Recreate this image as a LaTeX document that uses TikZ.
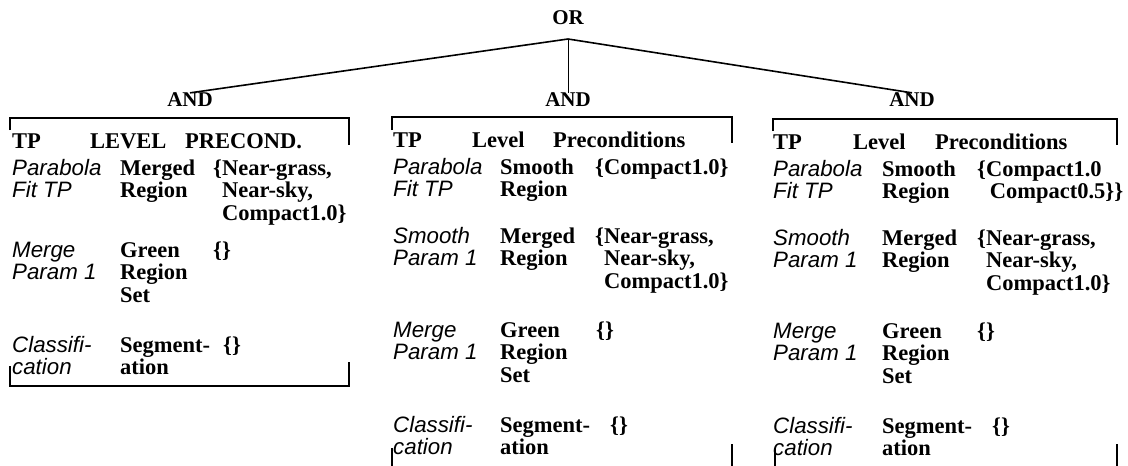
\documentclass[tikz,border=0pt]{standalone}
\usepackage{fontspec}
\setmainfont{Liberation Serif}
\setsansfont{Liberation Sans}
% stacked lines, baseline at the first line
\newcommand\rows[1]{\vtop{\baselineskip=22.5pt\lineskiplimit=-\maxdimen\lineskip=0pt\halign{##\hfil\cr#1\crcr}}}
\newcommand\ind{\phantom{\{}}
\begin{document}
\begin{tikzpicture}[x=1pt,y=-1pt,
  every node/.style={inner sep=0pt},
  txt/.style={anchor=base west},
  tpname/.style={txt,font=\sffamily\itshape\fontsize{22.3}{22.5}\selectfont},
  cell/.style={txt,font=\bfseries\fontsize{22.5}{22.5}\selectfont},
  gate/.style={font=\bfseries\fontsize{21}{21}\selectfont},
  branch/.style={line width=1.6pt},
  bracket/.style={line width=1.6pt}]
\useasboundingbox (0,0) rectangle (1128,466);

% tree
\node[gate] (or) at (568,18) {OR};
\node[gate] (and1) at (190,100) {AND};
\node[gate] (and2) at (568,100) {AND};
\node[gate] (and3) at (912,100) {AND};
\coordinate (apex) at (568,39);
\draw[branch] (apex) -- (and1.north);
\draw[line width=0.9pt] (apex) -- (and2.north);
\draw[branch] (apex) -- (and3.north);

% left table
\draw[bracket] (10,130) -- (10,118) -- (349,118) -- (349,145);
\draw[bracket] (10,366) -- (10,386) -- (349,386) -- (349,362);
\begin{scope}[shift={(10,0)}]
\node[cell] (l-h1) at (2,148) {TP};
\node[cell] (l-h2) at (80,148) {LEVEL};
\node[cell] (l-h3) at (175,148) {PRECOND.};
\node[tpname] (l-a1) at (2,175) {\rows{Parabola\cr Fit TP}};
\node[cell] (l-a2) at (110,175) {\rows{Merged\cr Region}};
\node[cell] (l-a3) at (203,175) {\rows{\{Near-grass,\cr\ind Near-sky,\cr\ind Compact1.0\}}};
\node[tpname] (l-b1) at (2,257) {\rows{Merge\cr Param 1}};
\node[cell] (l-b2) at (110,257) {\rows{Green\cr Region\cr Set}};
\node[cell] (l-b3) at (203,257) {\{\}};
\node[tpname] (l-c1) at (2,352) {\rows{Classifi-\cr cation}};
\node[cell] (l-c2) at (110,352) {\rows{Segment-\cr ation}};
\node[cell] (l-c3) at (213,352) {\{\}};
\end{scope}

% middle table
\draw[bracket] (392,130) -- (392,117) -- (732,117) -- (732,143);
\draw[bracket] (392,448) -- (392,466);
\draw[bracket] (732,444) -- (732,466);
\begin{scope}[shift={(392,0)}]
\node[cell] (m-h1) at (1,147) {TP};
\node[cell] (m-h2) at (80,147) {Level};
\node[cell] (m-h3) at (161,147) {Preconditions};
\node[tpname] (m-a1) at (1,174) {\rows{Parabola\cr Fit TP}};
\node[cell] (m-a2) at (108,174) {\rows{Smooth\cr Region}};
\node[cell] (m-a3) at (203,174) {\{Compact1.0\}};
\node[tpname] (m-b1) at (1,243) {\rows{Smooth\cr Param 1}};
\node[cell] (m-b2) at (108,243) {\rows{Merged\cr Region}};
\node[cell] (m-b3) at (203,243) {\rows{\{Near-grass,\cr\ind Near-sky,\cr\ind Compact1.0\}}};
\node[tpname] (m-c1) at (1,337) {\rows{Merge\cr Param 1}};
\node[cell] (m-c2) at (108,337) {\rows{Green\cr Region\cr Set}};
\node[cell] (m-c3) at (204,337) {\{\}};
\node[tpname] (m-d1) at (1,432) {\rows{Classifi-\cr cation}};
\node[cell] (m-d2) at (108,432) {\rows{Segment-\cr ation}};
\node[cell] (m-d3) at (218,432) {\{\}};
\end{scope}

% right table
\draw[bracket] (773,131) -- (773,119) -- (1117,119) -- (1117,145);
\draw[bracket] (775,448) -- (775,466);
\draw[bracket] (1117,444) -- (1117,466);
\begin{scope}[shift={(773,0)}]
\node[cell] (r-h1) at (0,149) {TP};
\node[cell] (r-h2) at (80,149) {Level};
\node[cell] (r-h3) at (162,149) {Preconditions};
\node[tpname] (r-a1) at (0,176) {\rows{Parabola\cr Fit TP}};
\node[cell] (r-a2) at (109,176) {\rows{Smooth\cr Region}};
\node[cell] (r-a3) at (204,176) {\rows{\{Compact1.0\cr\ind\,Compact0.5\}\}}};
\node[tpname] (r-b1) at (0,245) {\rows{Smooth\cr Param 1}};
\node[cell] (r-b2) at (109,245) {\rows{Merged\cr Region}};
\node[cell] (r-b3) at (204,245) {\rows{\{Near-grass,\cr\ind Near-sky,\cr\ind Compact1.0\}}};
\node[tpname] (r-c1) at (0,338) {\rows{Merge\cr Param 1}};
\node[cell] (r-c2) at (109,338) {\rows{Green\cr Region\cr Set}};
\node[cell] (r-c3) at (204,338) {\{\}};
\node[tpname] (r-d1) at (0,433) {\rows{Classifi-\cr cation}};
\node[cell] (r-d2) at (109,433) {\rows{Segment-\cr ation}};
\node[cell] (r-d3) at (219,433) {\{\}};
\end{scope}
\end{tikzpicture}
\end{document}
